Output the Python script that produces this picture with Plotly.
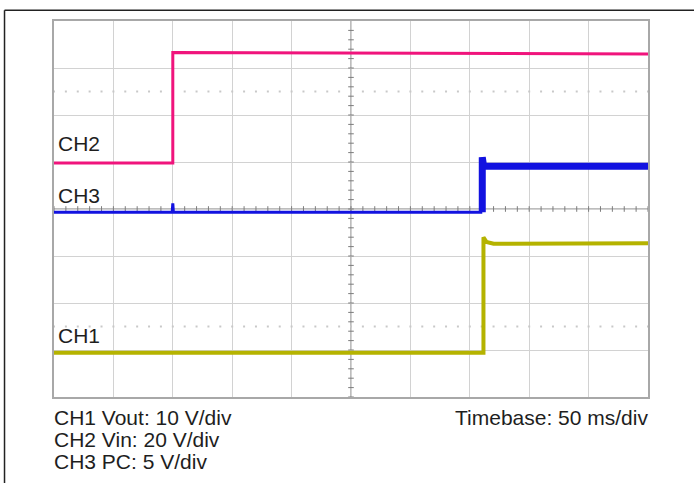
import numpy as np
import plotly.graph_objects as go

# Time axis: 50 ms/div, 10 divisions, trigger at 0 ms (2 div from left)
T_MIN, T_MAX = -100.0, 400.0
DIV_MS = 50.0

# Channel traces, vertical position in screen divisions (0 = centre line)
ch2_t = [-100.0, 0.0, 0.0, 0.0, 1.0, 400.0]
ch2_v = [0.98, 0.98, 2.70, 3.33, 3.33, 3.30]

ch3_low_t = [-100.0, -0.5, 0.0, 0.5, 260.5]
ch3_low_v = [-0.07, -0.07, 0.12, -0.07, -0.07]
ch3_high_t = [260.5, 260.5, 261.5, 263.0, 400.0]
ch3_high_v = [-0.07, 1.10, 0.93, 0.91, 0.91]

ch1_t = [-100.0, 261.5, 261.5, 264.0, 270.0, 400.0]
ch1_v = [-3.06, -3.06, -0.60, -0.70, -0.74, -0.73]

# Trigger markers
trig_time = [0.0]
trig_level = [1.18]

PINK = "#f0147c"
BLUE = "#1212e0"
OLIVE = "#b5b300"
TEXT = "#1e1e1e"

fig = go.Figure()

# Dotted reference lines at +/-2.5 div and centre-line minor ticks
minor_x = np.arange(T_MIN, T_MAX + 1e-9, DIV_MS / 5)
minor_y = np.arange(-4.0, 4.0 + 1e-9, 0.2)
for lvl in (2.5, -2.5):
    fig.add_trace(go.Scatter(
        x=minor_x, y=[lvl] * len(minor_x), mode="markers",
        marker=dict(symbol="square", size=2, color="#c8c8c8"),
        hoverinfo="skip", showlegend=False))
fig.add_trace(go.Scatter(
    x=minor_x, y=[0.0] * len(minor_x), mode="markers",
    marker=dict(symbol="line-ns", size=4, line=dict(width=1, color="#7c7c7c")),
    hoverinfo="skip", showlegend=False))
fig.add_trace(go.Scatter(
    x=[150.0] * len(minor_y), y=minor_y, mode="markers",
    marker=dict(symbol="line-ew", size=4, line=dict(width=1, color="#7c7c7c")),
    hoverinfo="skip", showlegend=False))

# Channel waveforms
fig.add_trace(go.Scatter(x=ch2_t, y=ch2_v, mode="lines",
                         line=dict(color=PINK, width=3), showlegend=False))
fig.add_trace(go.Scatter(x=ch3_low_t, y=ch3_low_v, mode="lines",
                         line=dict(color=BLUE, width=3), showlegend=False))
fig.add_trace(go.Scatter(x=ch3_high_t, y=ch3_high_v, mode="lines",
                         line=dict(color=BLUE, width=7), showlegend=False))
fig.add_trace(go.Scatter(x=ch1_t, y=ch1_v, mode="lines",
                         line=dict(color=OLIVE, width=4), showlegend=False))

# Trigger position (bottom) and trigger level (right) markers
fig.add_trace(go.Scatter(x=trig_time, y=[-4.12], mode="markers",
                         marker=dict(symbol="triangle-up", size=7, color=PINK),
                         cliponaxis=False, showlegend=False))
fig.add_trace(go.Scatter(x=[T_MAX + 5.0], y=trig_level, mode="markers",
                         marker=dict(symbol="triangle-left", size=7, color=PINK),
                         cliponaxis=False, showlegend=False))

# Centre crosshair
fig.add_shape(type="line", x0=150, x1=150, y0=-4, y1=4,
              line=dict(color="#7a7a7a", width=1), layer="below")
fig.add_shape(type="line", x0=T_MIN, x1=T_MAX, y0=0, y1=0,
              line=dict(color="#7a7a7a", width=1), layer="below")

# Outer frame (top and left edges)
fig.add_shape(type="line", xref="paper", yref="paper",
              x0=-0.0833, x1=1.2, y0=1.0285, y1=1.0285,
              line=dict(color="#222222", width=1.5))
fig.add_shape(type="line", xref="paper", yref="paper",
              x0=-0.0833, x1=-0.0833, y0=1.0285, y1=-0.3,
              line=dict(color="#222222", width=1.5))

font = dict(family="Liberation Sans, Arial, sans-serif", size=21, color=TEXT)

channel_labels = [("CH2", 1.40), ("CH3", 0.28), ("CH1", -2.69)]
for name, ypos in channel_labels:
    fig.add_annotation(x=T_MIN, y=ypos, xref="x", yref="y", text=name,
                       showarrow=False, xanchor="left", yanchor="middle",
                       xshift=2, font=font)

scale_lines = ["CH1 Vout: 10 V/div", "CH2 Vin: 20 V/div", "CH3 PC: 5 V/div"]
for i, line in enumerate(scale_lines):
    fig.add_annotation(x=0, y=0, xref="paper", yref="paper", text=line,
                       showarrow=False, xanchor="left", yanchor="top",
                       xshift=-2, yshift=-7 - 22 * i, font=font)
fig.add_annotation(x=1, y=0, xref="paper", yref="paper",
                   text="Timebase: 50 ms/div", showarrow=False,
                   xanchor="right", yanchor="top", xshift=2, yshift=-7,
                   font=font)

fig.update_xaxes(range=[T_MIN, T_MAX], dtick=DIV_MS, tick0=T_MIN,
                 showgrid=True, gridcolor="#d2d2d2", gridwidth=1.2,
                 zeroline=False, showticklabels=False, ticks="",
                 showline=True, linecolor="#a8a8a8", linewidth=1.5,
                 mirror=True, fixedrange=True)
fig.update_yaxes(range=[-4, 4], dtick=1, tick0=-4,
                 showgrid=True, gridcolor="#d2d2d2", gridwidth=1.2,
                 zeroline=False, showticklabels=False, ticks="",
                 showline=True, linecolor="#a8a8a8", linewidth=1.5,
                 mirror=True, fixedrange=True)

fig.update_layout(
    width=694, height=483,
    margin=dict(l=54, r=46, t=21, b=86),
    paper_bgcolor="white", plot_bgcolor="white",
    showlegend=False,
)

fig.write_html("out.html", config={"displayModeBar": False})
